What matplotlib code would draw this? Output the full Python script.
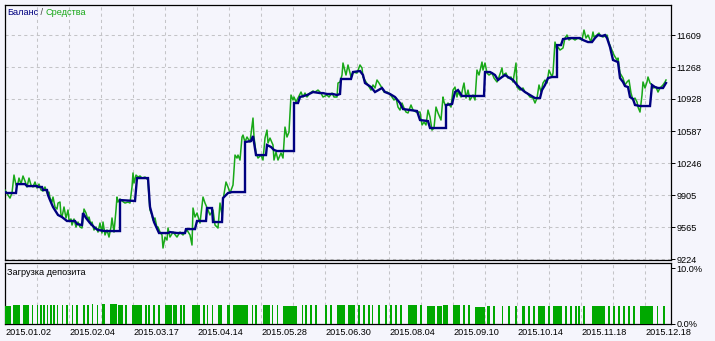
# Strategy tester report: balance / equity curve with deposit load strip below.
import matplotlib

matplotlib.use("Agg")
import matplotlib.pyplot as plt  # noqa: E402

plt.rcParams["font.family"] = ["Liberation Sans", "DejaVu Sans"]

# x axis is the tester's bar index (0..665), labelled with dates every 64 bars
dates = ["2015.01.02", "2015.02.04", "2015.03.17", "2015.04.14", "2015.05.28", "2015.06.30",
         "2015.08.04", "2015.09.10", "2015.10.14", "2015.11.18", "2015.12.18"]
date_pos = [0, 64, 128, 192, 256, 320, 384, 448, 512, 576, 640]

price_ticks = [9224, 9565, 9905, 10246, 10587, 10928, 11268, 11609]

balance_x = [0, 2, 11, 12, 20, 22, 32, 33, 37, 38, 42, 43, 45, 48, 53, 57, 62, 70, 72, 77,
             78, 81, 85, 90, 93, 100, 115, 115, 130, 132, 143, 145, 149, 154, 163, 165, 172, 180,
             181, 190, 192, 201, 202, 207, 208, 217, 218, 223, 227, 240, 240, 246, 248, 251, 261,
             262, 266, 269, 272, 289, 289, 293, 295, 302, 308, 315, 318, 322, 328, 332, 335, 336,
             346, 348, 355, 358, 360, 366, 370, 377, 380, 385, 390, 395, 398, 405, 412, 415, 423,
             425, 441, 441, 447, 450, 453, 457, 479, 480, 485, 487, 490, 493, 497, 500, 503, 508,
             512, 515, 520, 525, 530, 535, 537, 540, 543, 547, 552, 552, 556, 558, 565, 575, 578,
             583, 587, 590, 593, 597, 600, 602, 605, 608, 613, 615, 618, 620, 623, 625, 628, 630,
             635, 645, 647, 650, 653, 658, 661]
balance = [9937, 9927, 9927, 10022, 10022, 10001, 10001, 9991, 9991, 9959, 9959, 9905, 9852,
           9778, 9693, 9671, 9629, 9629, 9597, 9586, 9714, 9661, 9607, 9554, 9533, 9522, 9522,
           9852, 9842, 10086, 10086, 9778, 9618, 9501, 9501, 9511, 9501, 9501, 9543, 9543, 9629,
           9629, 9767, 9767, 9618, 9618, 9873, 9927, 9937, 9937, 10470, 10480, 10534, 10331,
           10331, 10438, 10417, 10385, 10374, 10374, 10885, 10885, 10949, 10970, 11002, 10991,
           10991, 10981, 10981, 10970, 10981, 11141, 11141, 11215, 11226, 11183, 11098, 11055,
           11002, 11045, 11002, 10981, 10949, 10885, 10821, 10810, 10800, 10704, 10693, 10619,
           10619, 10864, 10874, 11002, 11023, 10960, 10960, 11215, 11215, 11204, 11183, 11130,
           11162, 11183, 11162, 11130, 11077, 11045, 11002, 10970, 10938, 10938, 11023, 11077,
           11151, 11162, 11162, 11502, 11502, 11566, 11577, 11577, 11556, 11534, 11534, 11577,
           11609, 11598, 11609, 11577, 11481, 11343, 11321, 11151, 11109, 11066, 11055, 10949,
           10928, 10864, 10853, 10853, 11077, 11055, 11045, 11045, 11098]

equity_x = [0, 3, 5, 7, 9, 11, 13, 14, 16, 18, 20, 22, 24, 26, 28, 30, 32, 34, 36, 38, 40, 42,
            44, 45, 47, 48, 50, 52, 53, 55, 56, 57, 59, 61, 63, 64, 66, 67, 69, 71, 73, 75, 77,
            79, 81, 83, 84, 86, 87, 89, 91, 93, 95, 97, 98, 100, 102, 104, 106, 107, 109, 111,
            112, 113, 115, 117, 120, 123, 125, 127, 128, 129, 131, 133, 135, 137, 140, 143, 144,
            145, 147, 148, 150, 152, 153, 155, 157, 158, 160, 162, 163, 165, 168, 172, 175, 178,
            182, 185, 187, 188, 190, 192, 195, 198, 200, 203, 205, 208, 210, 213, 215, 217, 218,
            221, 223, 225, 228, 230, 232, 233, 235, 237, 238, 240, 242, 245, 248, 249, 251, 253,
            256, 258, 260, 262, 263, 265, 268, 269, 271, 273, 276, 278, 280, 282, 284, 286, 288,
            289, 291, 293, 296, 298, 300, 302, 305, 308, 310, 313, 316, 318, 322, 324, 327, 329,
            332, 333, 335, 337, 338, 341, 343, 346, 348, 352, 355, 357, 358, 361, 363, 366, 368,
            370, 372, 374, 377, 379, 382, 384, 387, 389, 391, 393, 395, 397, 399, 401, 403, 406,
            408, 411, 413, 415, 417, 419, 421, 423, 425, 427, 429, 431, 433, 436, 438, 439, 441,
            443, 446, 448, 450, 452, 453, 456, 458, 459, 461, 463, 465, 468, 470, 472, 474, 477,
            478, 480, 482, 484, 487, 489, 492, 494, 497, 498, 501, 503, 506, 508, 511, 512, 515,
            518, 520, 522, 525, 528, 530, 532, 534, 536, 538, 540, 542, 544, 547, 548, 550, 552,
            553, 555, 558, 560, 562, 564, 567, 570, 573, 577, 579, 581, 583, 586, 588, 589, 592,
            594, 595, 598, 602, 604, 607, 609, 612, 613, 615, 618, 620, 622, 624, 626, 628, 630,
            632, 633, 635, 637, 638, 640, 642, 643, 645, 647, 648, 651, 653, 655, 658, 660, 661]
equity = [9959, 9905, 9873, 9927, 10118, 10012, 10033, 10086, 10022, 10108, 10054, 9991, 10086,
          10012, 9991, 10044, 9980, 10022, 9959, 9948, 9991, 9927, 9937, 9873, 9831, 9884, 9778,
          9756, 9820, 9831, 9693, 9671, 9778, 9661, 9746, 9639, 9650, 9586, 9650, 9565, 9618,
          9565, 9554, 9756, 9714, 9639, 9671, 9586, 9618, 9533, 9565, 9511, 9607, 9501, 9618,
          9480, 9533, 9458, 9565, 9661, 9511, 9746, 9884, 9831, 9863, 9842, 9820, 9831, 9820,
          9991, 10140, 10033, 10118, 10097, 10108, 10086, 10097, 10065, 9884, 9746, 9693, 9639,
          9661, 9554, 9565, 9511, 9480, 9341, 9458, 9426, 9554, 9458, 9511, 9458, 9511, 9480,
          9533, 9480, 9373, 9767, 9671, 9714, 9607, 9884, 9820, 9746, 9693, 9746, 9586, 9554,
          9820, 9693, 9852, 10044, 9991, 9927, 10012, 10331, 10299, 10331, 10278, 10523, 10544,
          10470, 10523, 10470, 10725, 10523, 10353, 10299, 10331, 10278, 10512, 10597, 10459,
          10512, 10438, 10278, 10363, 10278, 10353, 10299, 10629, 10523, 10576, 10970, 10917,
          10949, 10896, 10938, 11002, 10949, 10991, 10949, 10991, 11013, 11002, 11023, 10991,
          10949, 10970, 10949, 10991, 10949, 10949, 11098, 11109, 11183, 11311, 11183, 11290,
          11162, 11215, 11204, 11290, 11258, 11162, 11109, 11077, 11023, 11077, 11045, 11130,
          11098, 11045, 11002, 11002, 10991, 10949, 10917, 10938, 10842, 10810, 10885, 10832,
          10789, 10779, 10864, 10810, 10789, 10789, 10789, 10651, 10682, 10651, 10810, 10736,
          10597, 10619, 10842, 10779, 10704, 10949, 10896, 10842, 10885, 10842, 11023, 11055,
          10949, 11002, 10949, 11055, 11098, 10938, 11023, 10917, 10970, 10917, 11236, 11183,
          11321, 11236, 11311, 11204, 11183, 11204, 11151, 11109, 11162, 11258, 11183, 11204,
          11151, 11162, 11109, 11311, 11055, 11023, 11045, 11002, 10991, 10949, 10938, 10885,
          10938, 11077, 11002, 11098, 11130, 11098, 11236, 11162, 11204, 11534, 11449, 11481,
          11449, 11471, 11577, 11609, 11556, 11577, 11556, 11577, 11556, 11662, 11577, 11609,
          11534, 11641, 11588, 11609, 11630, 11609, 11588, 11609, 11524, 11449, 11396, 11343,
          11364, 11204, 11151, 11077, 11109, 11130, 10991, 10917, 10938, 10896, 10842, 10789,
          10970, 11109, 11045, 11109, 11162, 11098, 11077, 11045, 11055, 11002, 11045, 11077,
          11109, 11130]

# deposit load: intervals (bar index) where a position was open, and the load in %
load_start = [0, 7.7, 18.3, 26.7, 31.7, 35, 38.3, 41.7, 45, 48.3, 51.7, 56.7, 61, 66.7, 71,
              77.7, 82.3, 86.7, 91.7, 96.7, 105, 113.3, 120, 126.7, 140, 143.3, 148.3, 153.3,
              160, 168.3, 175, 178.3, 186.7, 198.3, 201.7, 206.7, 213.3, 221.7, 228.3, 246.7,
              250, 258.3, 266.7, 271.7, 278.3, 296.7, 300, 305, 310, 320, 325, 331.7, 343.3,
              353.3, 358.3, 363.3, 366.7, 373.3, 380, 385, 390, 395, 403.3, 415, 421.7, 431.7,
              438.3, 448.3, 458.3, 463.3, 470, 481.7, 488.3, 496.7, 503.3, 510, 516.7, 523.3,
              528.3, 533.3, 543.3, 548.3, 560, 565, 570, 573.3, 578.3, 586.7, 603.3, 608.3,
              613.3, 618.3, 623.3, 628.3, 635, 651.7, 658.3]
load_end = [5.7, 15, 24.3, 28.3, 33.3, 36.7, 40, 43.3, 46.7, 50, 53.3, 58.3, 63.3, 68.3, 73.3,
            80, 84.3, 88.3, 93.3, 100, 111.7, 118.3, 121.7, 136.7, 141.7, 145, 150, 155, 166.7,
            171.7, 176.7, 180, 195, 200, 203.3, 208.3, 216.7, 225, 243.3, 248.3, 251.7, 265,
            268.3, 273.3, 291.7, 298.3, 301.7, 306.7, 311.7, 321.7, 326.7, 340, 350, 355, 360,
            365, 368.3, 375, 381.7, 386.7, 391.7, 396.7, 411.7, 416.7, 430, 436.7, 443.3, 455,
            460, 465, 480, 485, 490, 498.3, 505, 511.7, 520, 525, 530, 540, 545, 556.7, 561.7,
            566.7, 571.7, 575, 580, 600, 605, 610, 615, 620, 625, 630, 648.3, 653.3, 660]
load_pct = [3.2, 3.3, 3.3, 3.3, 3.3, 3.3, 3.3, 3.3, 3.3, 3.3, 3.3, 3.3, 3.3, 3.3, 3.3, 3.3,
            3.4, 3.5, 3.3, 3.6, 3.6, 3.4, 3.3, 3.3, 3.3, 3.3, 3.3, 3.3, 3.3, 3.3, 3.3, 3.3,
            3.3, 3.3, 3.3, 3.3, 3.4, 3.3, 3.3, 3.3, 3.3, 3.3, 3.3, 3.3, 3.2, 3.3, 3.3, 3.3,
            3.3, 3.3, 3.3, 3.4, 3.3, 3.3, 3.3, 3.3, 3.3, 3.3, 3.3, 3.3, 3.3, 3.3, 3.3, 3.3,
            3.2, 3.1, 3.3, 3.3, 3.3, 3.3, 3.0, 3.1, 3.1, 3.1, 3.1, 3.1, 3.1, 3.1, 3.1, 3.1,
            3.1, 3.2, 3.1, 3.1, 3.1, 3.1, 3.1, 3.2, 3.1, 3.1, 3.1, 3.1, 3.1, 3.1, 3.2, 3.1,
            3.1]

BG = "#f5f5fc"
NAVY = "#000080"
GREEN = "#18a818"
BAR_GREEN = "#00a800"
GRID = "#c4c4c8"
FS = 6.6

fig = plt.figure(figsize=(7.15, 3.41), dpi=100, facecolor=BG)
ax = fig.add_axes([4.5 / 715, (341 - 259.5) / 341, 666 / 715, 255 / 341], facecolor=BG)
ax2 = fig.add_axes([4.5 / 715, (341 - 323.5) / 341, 666 / 715, 61 / 341], facecolor=BG)

ax.plot(equity_x, equity, color=GREEN, lw=1.1, zorder=3)
ax.plot(balance_x, balance, color=NAVY, lw=1.7, zorder=4, solid_joinstyle="miter")

widths = [e - s for s, e in zip(load_start, load_end)]
ax2.bar(load_start, load_pct, width=widths, align="edge", color=BAR_GREEN, lw=0, zorder=3)

for a in (ax, ax2):
    a.set_xlim(-0.5, 665.5)
    a.set_xticks(date_pos)
    a.set_xticks(range(32, 641, 64), minor=True)
    a.grid(True, axis="x", which="both", color=GRID, ls=(0, (3, 3)), lw=0.75, zorder=0)
    a.yaxis.tick_right()
    a.tick_params(axis="y", direction="out", length=3, width=0.7, pad=1.5, labelsize=FS)
    a.tick_params(axis="x", which="both", length=0)
    for s in a.spines.values():
        s.set_color("black")
        s.set_linewidth(0.9)

ax.set_ylim(9219, 11934)
ax.set_yticks(price_ticks)
ax.set_yticklabels([str(v) for v in price_ticks])
ax.grid(True, axis="y", color=GRID, ls=(0, (3, 3)), lw=0.75, zorder=0)
ax.tick_params(axis="x", labelbottom=False)

ax2.set_ylim(0, 11.0)
ax2.set_yticks([0, 10])
ax2.set_yticklabels(["0.0%", "10.0%"])
ax2.set_xticklabels(dates, fontsize=FS, ha="left")
ax2.tick_params(axis="x", pad=3)

t1 = ax.text(0.004, 0.967, "Баланс", transform=ax.transAxes, color=NAVY, fontsize=FS,
             va="center", ha="left")
t2 = ax.annotate(" / ", xy=(1, 0), xycoords=t1, va="bottom", ha="left", color="#404040", fontsize=FS)
ax.annotate("Средства", xy=(1, 0), xycoords=t2, va="bottom", ha="left", color=GREEN, fontsize=FS)

ax2.text(0.004, 0.844, "Загрузка депозита", transform=ax2.transAxes, color="black",
         fontsize=FS, va="center", ha="left")

fig.savefig("out.png", dpi=100, facecolor=BG)
